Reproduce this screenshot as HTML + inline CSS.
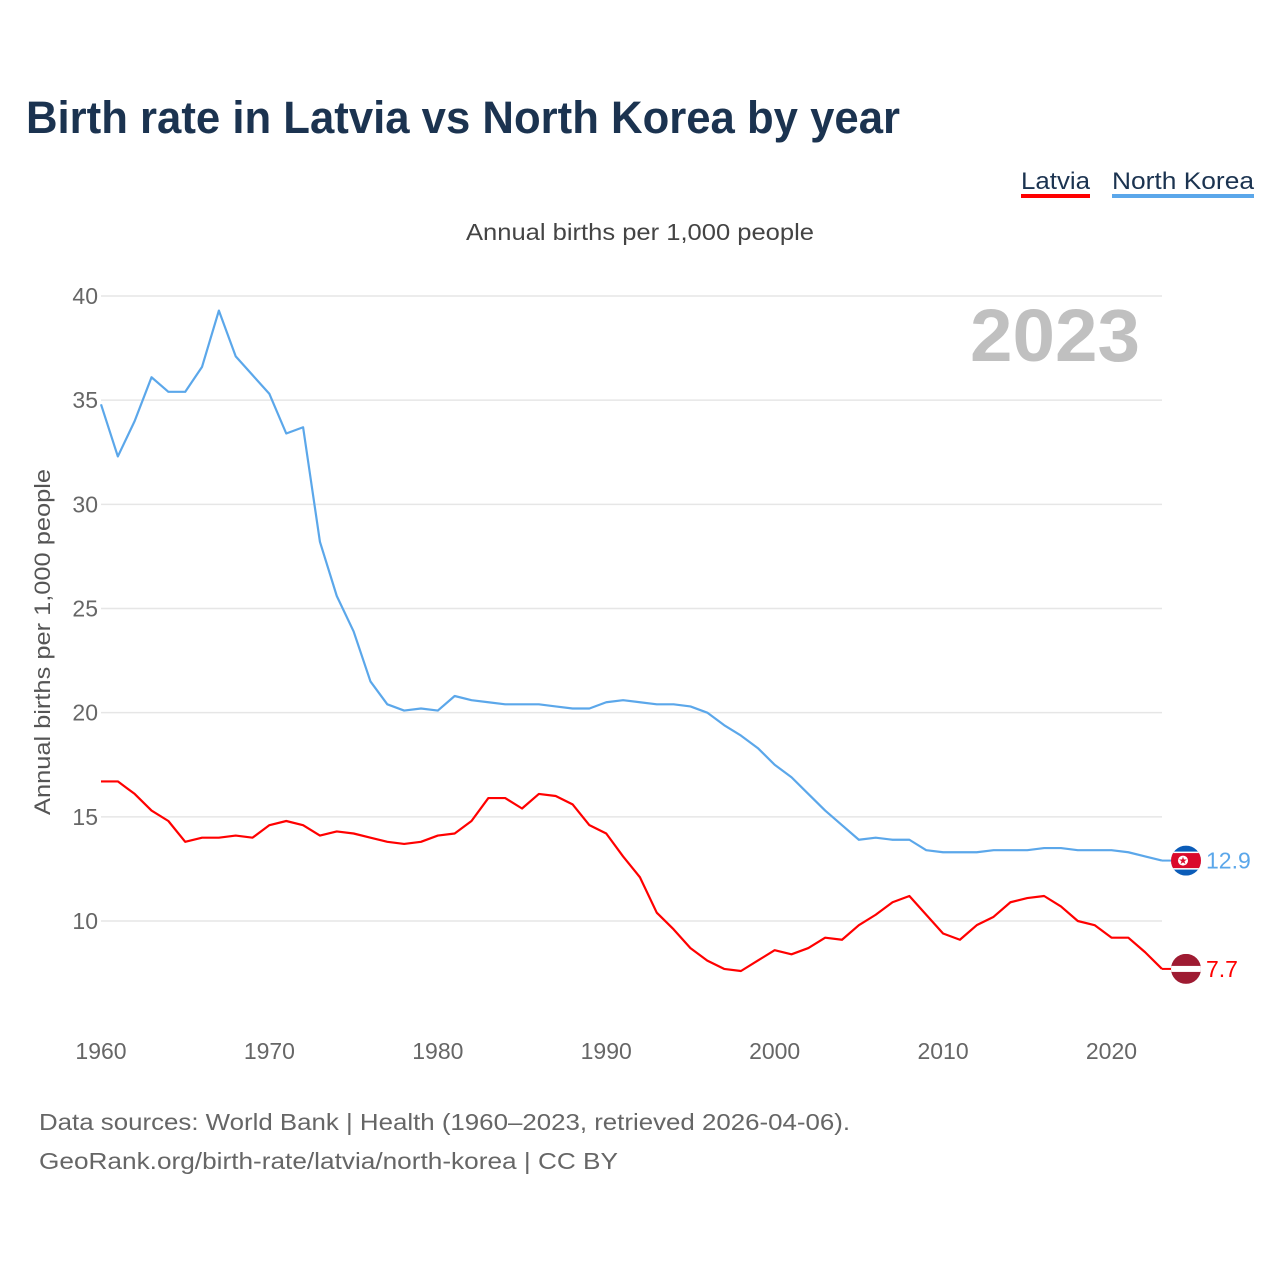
<!DOCTYPE html>
<html><head><meta charset="utf-8"><style>
body{margin:0;background:#fff;font-family:"Liberation Sans",sans-serif}
#wrap{position:relative;width:1280px;height:1280px;overflow:hidden}
</style></head><body>
<div id="wrap">
<svg id="chart" width="1280" height="1280" font-family="Liberation Sans, sans-serif">
<text x="26" y="133" font-size="45" font-weight="bold" fill="#1b3350" textLength="874" lengthAdjust="spacingAndGlyphs">Birth rate in Latvia vs North Korea by year</text>
<g><text x="1021" y="189" font-size="24" fill="#1b3350" textLength="69" lengthAdjust="spacingAndGlyphs">Latvia</text><rect x="1021" y="194" width="69" height="4" fill="#ff0000"/></g>
<g><text x="1112" y="189" font-size="24" fill="#1b3350" textLength="142" lengthAdjust="spacingAndGlyphs">North Korea</text><rect x="1112" y="194" width="142" height="4" fill="#5ba7ea"/></g>
<text x="466" y="240" font-size="23" fill="#444" textLength="348" lengthAdjust="spacingAndGlyphs">Annual births per 1,000 people</text>
<text x="1140" y="361" font-size="74" font-weight="bold" fill="#c0c0c0" text-anchor="end" textLength="170" lengthAdjust="spacingAndGlyphs">2023</text>
<text transform="translate(50,815) rotate(-90)" font-size="22" fill="#555" textLength="346" lengthAdjust="spacingAndGlyphs">Annual births per 1,000 people</text>
<g id="grid"></g><g id="lines"></g>
<text x="39" y="1130" font-size="23" fill="#666" textLength="811" lengthAdjust="spacingAndGlyphs">Data sources: World Bank | Health (1960–2023, retrieved 2026-04-06).</text>
<text x="39" y="1169" font-size="23" fill="#666" textLength="579" lengthAdjust="spacingAndGlyphs">GeoRank.org/birth-rate/latvia/north-korea | CC BY</text>
</svg>
</div>
<script>
const years=[];for(let y=1960;y<=2023;y++)years.push(y);
const latvia=[16.7,16.7,16.1,15.3,14.8,13.8,14.0,14.0,14.1,14.0,14.6,14.8,14.6,14.1,14.3,14.2,14.0,13.8,13.7,13.8,14.1,14.2,14.8,15.9,15.9,15.4,16.1,16.0,15.6,14.6,14.2,13.1,12.1,10.4,9.6,8.7,8.1,7.7,7.6,8.1,8.6,8.4,8.7,9.2,9.1,9.8,10.3,10.9,11.2,10.3,9.4,9.1,9.8,10.2,10.9,11.1,11.2,10.7,10.0,9.8,9.2,9.2,8.5,7.7];
const northKorea=[34.8,32.3,34.0,36.1,35.4,35.4,36.6,39.3,37.1,36.2,35.3,33.4,33.7,28.2,25.6,23.9,21.5,20.4,20.1,20.2,20.1,20.8,20.6,20.5,20.4,20.4,20.4,20.3,20.2,20.2,20.5,20.6,20.5,20.4,20.4,20.3,20.0,19.4,18.9,18.3,17.5,16.9,16.1,15.3,14.6,13.9,14.0,13.9,13.9,13.4,13.3,13.3,13.3,13.4,13.4,13.4,13.5,13.5,13.4,13.4,13.4,13.3,13.1,12.9];
const yTicks=[10,15,20,25,30,35,40];
const xTicks=[1960,1970,1980,1990,2000,2010,2020];
const NS="http://www.w3.org/2000/svg";
const X=y=>101+(y-1960)*(1061/63);
const Y=v=>921-(v-10)*(625/30);
function mk(tag,attrs,parent){const e=document.createElementNS(NS,tag);for(const k in attrs)e.setAttribute(k,attrs[k]);parent.appendChild(e);return e;}
const grid=document.getElementById('grid'),lines=document.getElementById('lines');
yTicks.forEach(t=>{
 const l=mk('line',{x1:101,x2:1162,y1:Y(t),y2:Y(t),stroke:'#e6e6e6','stroke-width':1.5},grid);
 
 
 const tx=mk('text',{x:98,y:Y(t)+8,'font-size':23,fill:'#666','text-anchor':'end'},grid);tx.textContent=t;
 
 
});
xTicks.forEach(t=>{
 const tx=mk('text',{x:X(t),y:1059,'font-size':23,fill:'#666','text-anchor':'middle'},grid);tx.textContent=t;
 
 
});
function series(vals,color,name){
 const p=mk('polyline',{points:vals.map((v,i)=>X(years[i])+','+Y(v)).join(' '),fill:'none',stroke:color,'stroke-width':2.2,'stroke-linejoin':'round'},lines);
 
 
}
series(northKorea,'#5ba7ea','north-korea');
series(latvia,'#ff0000','latvia');
function flag(vals,name,color,kind){
 const v=vals[vals.length-1],cx=1186,cy=Y(v);
 const g=mk('g',{},lines);
 
 
 mk('line',{x1:X(2023),x2:cx-14,y1:cy,y2:cy,stroke:color,'stroke-width':2},g);
 const cp='cp-'+name;const d=mk('clipPath',{id:cp},g);mk('circle',{cx:cx,cy:cy,r:15},d);
 const f=mk('g',{'clip-path':'url(#'+cp+')'},g);
 if(kind==='kp'){mk('rect',{x:cx-15,y:cy-15,width:30,height:30,fill:'#0b5cb8'},f);mk('rect',{x:cx-15,y:cy-9,width:30,height:18,fill:'#fff'},f);mk('rect',{x:cx-15,y:cy-7.5,width:30,height:15,fill:'#da0a2c'},f);mk('circle',{cx:cx-3,cy:cy,r:5,fill:'#fff'},f);mk('text',{x:cx-3,y:cy+3.5,'font-size':10,fill:'#da0a2c','text-anchor':'middle'},f).textContent='★';}
 else{mk('rect',{x:cx-15,y:cy-15,width:30,height:30,fill:'#9e1b32'},f);mk('rect',{x:cx-15,y:cy-3,width:30,height:6,fill:'#fff'},f);}
 const t=mk('text',{x:cx+20,y:cy+8,'font-size':23,fill:color},g);t.textContent=v;
}
flag(northKorea,'north-korea','#5ba7ea','kp');
flag(latvia,'latvia','#ff0000','lv');
</script>
</body></html>
